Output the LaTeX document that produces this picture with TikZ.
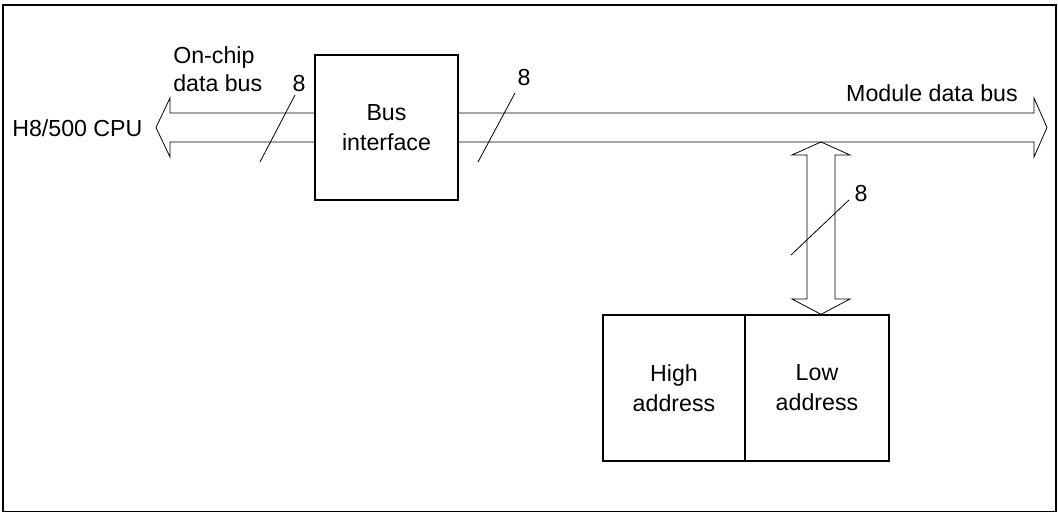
\documentclass[tikz,border=0pt]{standalone}
\usepackage{fontspec}
\setmainfont{Liberation Sans}
\begin{document}
\begin{tikzpicture}[x=0.75pt,y=-0.75pt,
  every node/.style={font=\fontsize{17.4}{22.5}\selectfont, inner sep=0pt},
  blk/.style={draw, line width=1pt, align=center},
  bus/.style={draw, line width=0.6pt, line join=miter},
  tick/.style={draw, line width=0.6pt},
  lbl/.style={anchor=base}]
\useasboundingbox (0,0) rectangle (1058,513);
\draw[line width=1pt] (3,5) rectangle (1056,511.5);

% blocks
\node[blk, minimum width=143*0.75pt, minimum height=145*0.75pt] (bi) at (386.5,127.5) {Bus\\interface};
\node[blk, minimum width=142*0.75pt, minimum height=146*0.75pt] (hi) at (674,388) {High\\address};
\node[blk, minimum width=144*0.75pt, minimum height=146*0.75pt] (lo) at (817,388) {Low\\address};

% left bus (to CPU)
\draw[bus] (bi.west |- 0,113) -- (170,113) -- (170,98) -- (156,127.5) -- (170,157) -- (170,142) -- (bi.west |- 0,142);
% right bus (module data bus)
\draw[bus] (bi.east |- 0,113) -- (1034,113) -- (1034,98) -- (1047,127.5) -- (1034,157) -- (1034,142) -- (bi.east |- 0,142);
% vertical bus to registers
\coordinate (vt) at (821,142);
\draw[bus] (vt) -- (850,155) -- (835,155) -- (835,299) -- (850,299) -- (lo.north -| vt) -- (792,299) -- (807,299) -- (807,155) -- (792,155) -- cycle;

% bus width ticks
\coordinate (t1a) at (260,162); \coordinate (t1b) at (295,95);
\coordinate (t2a) at (478,162); \coordinate (t2b) at (515,93);
\coordinate (t3a) at (791,255); \coordinate (t3b) at (849,200);
\draw[tick] (t1a) -- (t1b);
\draw[tick] (t2a) -- (t2b);
\draw[tick] (t3a) -- (t3b);

% labels
\node[lbl] (n1) at (299,92) {8};
\node[lbl] (n2) at (524,86) {8};
\node[lbl] (n3) at (861,202) {8};
\node[anchor=base west] (cpu) at (12,137) {H8/500 CPU};
\node[anchor=base west] (oc1) at (173,64) {On-chip};
\node[anchor=base west] (oc2) at (173,92) {data bus};
\node[anchor=base east] (mdb) at (1018,102) {Module data bus};
\end{tikzpicture}
\end{document}
